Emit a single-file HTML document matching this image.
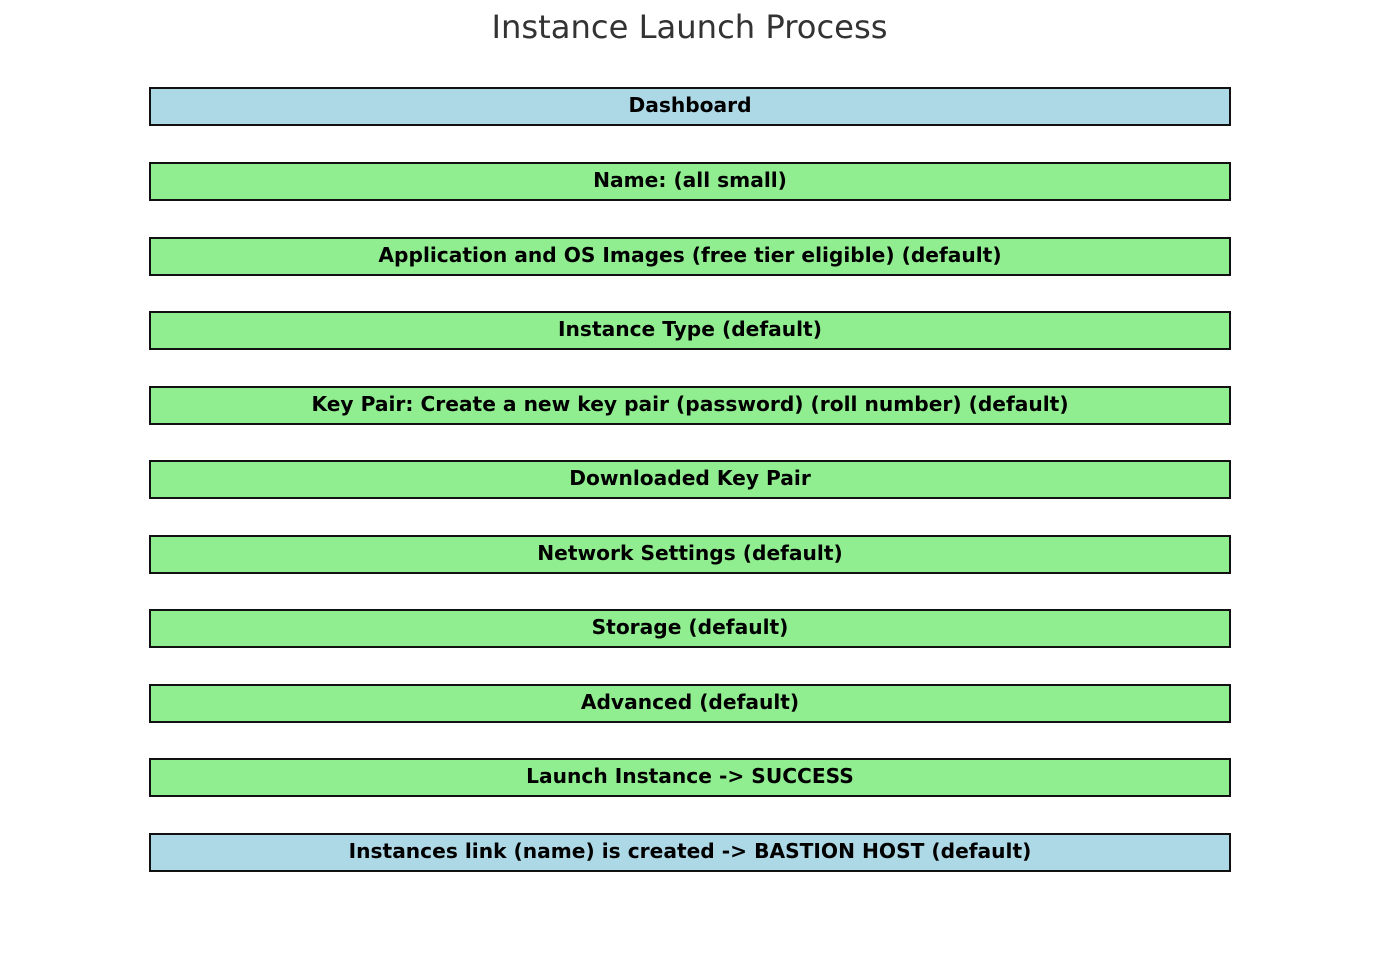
<!DOCTYPE html>
<html><head><style>
html,body{margin:0;padding:0;background:#fff;}
body{width:1379px;height:959px;position:relative;overflow:hidden;font-family:"DejaVu Sans","Liberation Sans",sans-serif;}
.t{position:absolute;left:0;width:1379px;top:8px;text-align:center;font-size:32.2px;color:#333;}
.b{position:absolute;left:149px;width:1078px;height:35px;border:2px solid #111;background:#90ee90;text-align:center;line-height:33px;font-weight:bold;font-size:20.2px;color:#000;}
.blue{background:#add8e6;}
</style></head><body>
<div class="t">Instance Launch Process</div>
<div class="b blue" style="top:87px">Dashboard</div>
<div class="b" style="top:162px">Name: (all small)</div>
<div class="b" style="top:237px">Application and OS Images (free tier eligible) (default)</div>
<div class="b" style="top:311px">Instance Type (default)</div>
<div class="b" style="top:386px">Key Pair: Create a new key pair (password) (roll number) (default)</div>
<div class="b" style="top:460px">Downloaded Key Pair</div>
<div class="b" style="top:535px">Network Settings (default)</div>
<div class="b" style="top:609px">Storage (default)</div>
<div class="b" style="top:684px">Advanced (default)</div>
<div class="b" style="top:758px">Launch Instance -&gt; SUCCESS</div>
<div class="b blue" style="top:833px">Instances link (name) is created -&gt; BASTION HOST (default)</div>
</body></html>
